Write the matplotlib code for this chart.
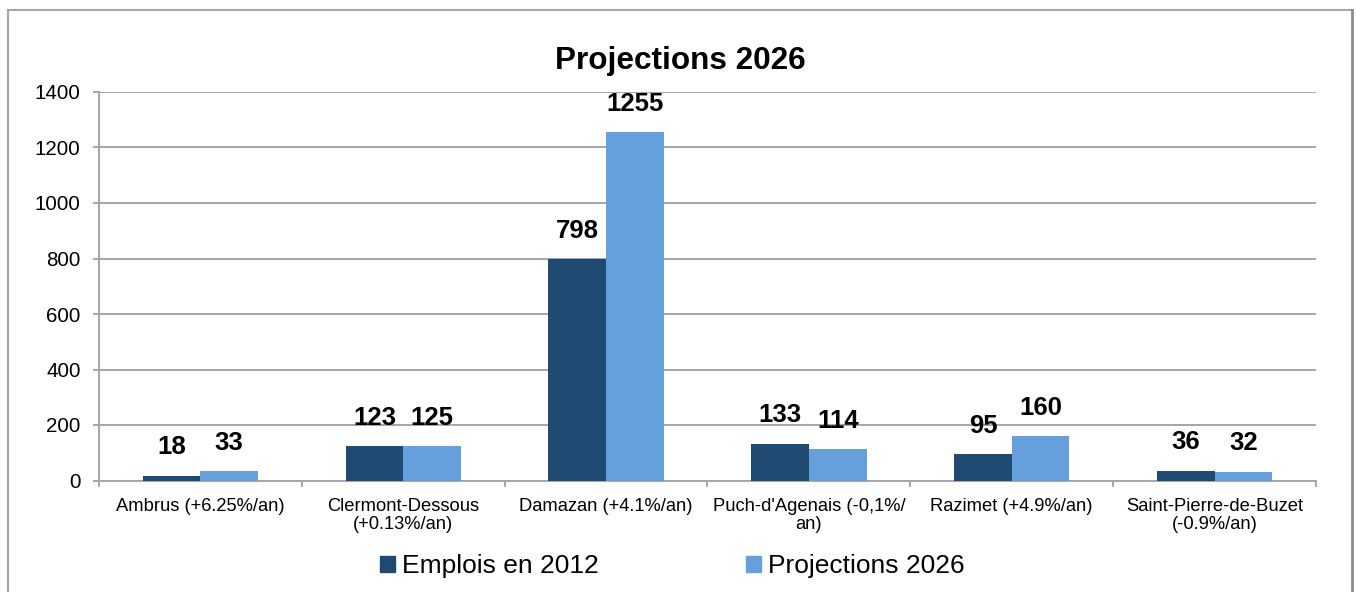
import matplotlib
matplotlib.use("Agg")
import matplotlib.pyplot as plt
import numpy as np
from matplotlib.patches import Patch
from matplotlib.lines import Line2D

plt.rcParams["font.family"] = ["Liberation Sans", "DejaVu Sans"]

# data
communes = ["Ambrus (+6.25%/an)", "Clermont-Dessous\n(+0.13%/an)", "Damazan (+4.1%/an)",
            "Puch-d'Agenais (-0,1%/\nan)", "Razimet (+4.9%/an)", "Saint-Pierre-de-Buzet\n(-0.9%/an)"]
emplois_2012 = [18, 123, 798, 133, 95, 36]
projections_2026 = [33, 125, 1255, 114, 160, 32]
series_names = ["Emplois en 2012", "Projections 2026"]
yticks = [0, 200, 400, 600, 800, 1000, 1200, 1400]

DARK, LIGHT, GRID = "#1f4a72", "#65a0dc", "#a6a6a6"
W, H = 1356, 592

fig = plt.figure(figsize=(W / 100, H / 100), dpi=100)
ax = fig.add_axes([99 / W, (H - 480.5) / H, (1316 - 99) / W, (480.5 - 92) / H])

x = np.arange(len(communes))
w = 0.284
b1 = ax.bar(x - w / 2, emplois_2012, w, color=DARK, zorder=3)
b2 = ax.bar(x + w / 2, projections_2026, w, color=LIGHT, zorder=3)
for bars in (b1, b2):
    for r in bars:
        ax.annotate(f"{int(r.get_height())}", (r.get_x() + r.get_width() / 2, r.get_height()),
                    xytext=(0, 20.3), textcoords="offset points", ha="center", va="center",
                    fontsize=18.5, fontweight="bold", color="black")

ax.set_xlim(-0.5, len(communes) - 0.5)
ax.set_ylim(0, 1400)
ax.set_yticks(yticks)
ax.yaxis.grid(True, color=GRID, lw=1.4, zorder=0)
ax.set_xticks(x)
ax.set_xticklabels(communes, fontsize=13.2, linespacing=1.05)
ax.set_xticks(np.arange(-0.5, len(communes)), minor=True)
ax.tick_params(axis="x", which="major", length=0, pad=12.5)
ax.tick_params(axis="x", which="minor", length=4.3, width=1.4, color=GRID, direction="out")
ax.tick_params(axis="y", length=4.3, width=1.4, color=GRID, pad=9, labelsize=14.8)
for s in ("top", "right"):
    ax.spines[s].set_visible(False)
for s in ("left", "bottom"):
    ax.spines[s].set_color(GRID)
    ax.spines[s].set_linewidth(1.4)

fig.text(680.5 / W, 1 - 61 / H, "Projections 2026", ha="center", va="center",
         fontsize=22.7, fontweight="bold")

handles = [Patch(color=DARK), Patch(color=LIGHT)]
fig.legend(handles, series_names, loc="center", bbox_to_anchor=(672.5 / W, 1 - 566 / H),
           ncol=2, frameon=False, fontsize=19, handlelength=0.55, handleheight=0.55,
           handletextpad=0.28, columnspacing=5.6, borderpad=0)

# outer chart border
fig.add_artist(Line2D([8 / W, 8 / W], [0, 1 - 10 / H], transform=fig.transFigure, color=GRID, lw=1.5))
fig.add_artist(Line2D([8 / W, 1352 / W], [1 - 10 / H, 1 - 10 / H], transform=fig.transFigure, color=GRID, lw=1.5))
fig.add_artist(Line2D([1352 / W, 1352 / W], [0, 1 - 10 / H], transform=fig.transFigure, color="#8c8c8c", lw=2))

fig.savefig("out.png", dpi=100)
